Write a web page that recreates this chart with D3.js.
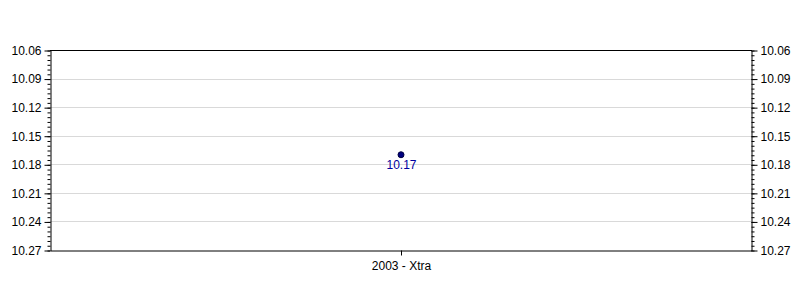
<!DOCTYPE html>
<html><head><meta charset="utf-8">
<script src="https://cdn.jsdelivr.net/npm/d3@7"></script>
<style>body{margin:0;background:#fff}svg{display:block}text{font-family:"Liberation Sans",Arial,sans-serif}</style>
</head><body>
<script>
const categories = ["2003 - Xtra"];
const values = [10.17];
const pointLabels = ["10.17"];
const yTicks = [10.06, 10.09, 10.12, 10.15, 10.18, 10.21, 10.24, 10.27];
const yDomain = [10.06, 10.27];

const W = 800, H = 300, m = {l: 50, r: 49, t: 50, b: 50};
const svg = d3.select("body").append("svg").attr("width", W).attr("height", H);
const x = d3.scalePoint().domain(categories).range([m.l, W - m.r]).padding(0.5);
const y = d3.scaleLinear().domain(yDomain).range([m.t, H - m.b]);

const minor = d3.range(0, 43).map(i => +(yDomain[0] + i * 0.005).toFixed(3));

// grid
svg.append("g").selectAll("line").data(yTicks.slice(1, -1)).join("line")
  .attr("x1", m.l).attr("x2", W - m.r)
  .attr("y1", d => Math.round(y(d)) + 0.5).attr("y2", d => Math.round(y(d)) + 0.5)
  .attr("stroke", "#d9d9d9");

function yAxis(g, orient) {
  g.call(orient(y).tickValues(minor).tickSize(3).tickFormat(""));
  g.call(a => a.select(".domain").remove());
  g.append("g").call(orient(y).tickValues(yTicks).tickSize(6).tickSizeOuter(0)
    .tickFormat(d3.format(".2f")));
  g.selectAll("text").attr("font-size", 12).attr("fill", "#000");
  g.selectAll("line,path").attr("stroke", "#000");
}
svg.append("g").attr("transform", `translate(${m.l + 0.5},0.5)`).call(g => yAxis(g, d3.axisLeft));
svg.append("g").attr("transform", `translate(${W - m.r + 0.5},0.5)`).call(g => yAxis(g, d3.axisRight));

// top border
svg.append("line").attr("x1", m.l).attr("x2", W - m.r + 1)
  .attr("y1", m.t + 0.5).attr("y2", m.t + 0.5).attr("stroke", "#000");

// x axis
const xa = svg.append("g").attr("transform", `translate(0.5,${H - m.b + 0.5})`)
  .call(d3.axisBottom(x).tickSize(5).tickSizeOuter(0));
xa.selectAll("text").attr("font-size", 12).attr("fill", "#000").attr("dy", "0.95em");
xa.selectAll("line,path").attr("stroke", "#000");

// points
svg.append("g").selectAll("circle").data(values).join("circle")
  .attr("cx", (d, i) => x(categories[i]) + 0.5).attr("cy", d => y(d))
  .attr("r", 3).attr("fill", "#000080").attr("stroke", "#000040");
svg.append("g").selectAll("text").data(values).join("text")
  .attr("x", (d, i) => x(categories[i]) + 1).attr("y", d => y(d) + 14)
  .attr("text-anchor", "middle").attr("font-size", 12).attr("fill", "#0000a0")
  .text((d, i) => pointLabels[i]);
</script>
</body></html>
